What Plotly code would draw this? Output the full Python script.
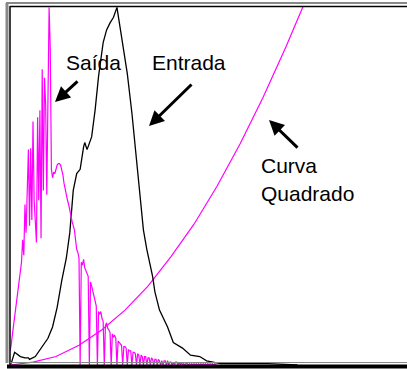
import plotly.graph_objects as go

# Histograma de entrada (nivel de cinza -> contagem relativa, 0..255)
entrada_x = [1, 4, 9, 13, 16, 17, 22, 28, 33, 37, 41, 45, 49, 52, 55, 58, 61, 64, 65, 67,
             71, 74, 77, 81, 84, 87, 90, 93, 97, 102, 106, 110, 113, 116, 119, 124, 126,
             130, 137, 142, 150, 157, 165, 171, 183, 194, 224, 250]
entrada_y = [1, 9, 6, 5, 5, 4, 6, 13, 19, 27, 41, 60, 76, 94, 124, 136, 139, 155, 158, 153,
             162, 181, 205, 229, 238, 243, 247, 254, 233, 207, 179, 146, 117, 96, 82, 63, 52,
             39, 27, 16, 12, 7, 6, 3, 1, 1, 1, 0]

# Histograma de saida, um valor por nivel (0, 1, 2, ...)
saida_pente = [10, 14, 21, 28, 33, 39, 46, 53, 60, 66, 73, 89, 78, 114, 94, 124, 153, 99, 154, 103,
               173, 117, 99, 87, 176, 117, 181, 90, 210, 124, 204, 185, 121, 188, 254, 225, 139, 133]
saida_bojo = [137, 136, 140, 142, 143, 143, 142, 139, 135, 129, 124, 121, 117, 114, 110, 104,
              102, 99, 96, 89, 82, 80, 76]
saida_cauda = [0, 73, 71, 75, 69, 67, 64, 63, 0, 59, 56, 53, 50, 46, 42, 0, 38, 36, 38, 33, 31, 0,
               28, 30, 26, 25, 23, 0, 22, 20, 21, 19, 0, 17, 16, 15, 14, 0, 13, 13, 12, 0, 11, 10,
               10, 0, 9, 9, 8, 0, 8, 7, 0, 7, 6, 0, 6, 6, 0, 5, 5, 0, 5, 4, 0, 4, 4, 0, 4, 3, 0, 3,
               0, 3, 3, 0, 3, 0, 2, 2, 0, 2, 0, 2, 2, 0, 2, 0, 2, 0, 1, 0, 1, 1, 0, 1, 0, 1, 0, 1,
               0, 1, 0, 1, 0, 1, 0, 1, 0, 1, 0, 1, 0, 1, 0, 1, 0, 1, 0, 0]

# Curva de transformacao (quadrado)
curva_x = [0, 20, 40, 60, 80, 100, 120, 140, 160, 180, 200, 220, 240, 255]
curva_y = [0, 2, 6, 14, 25, 39, 56, 77, 100, 127, 157, 190, 226, 255]

saida_y = saida_pente + saida_bojo + saida_cauda
saida_x = list(range(len(saida_y)))

MAG = "#FF00FF"
W, H = 407, 369
L, T, B = 10, 6, 4
PW, PH = W - L, H - T - B
XMAX = PW / 1.15


def px(x):
    # pixel -> nivel
    return (x - L) / 1.15


def py(y):
    # pixel -> valor
    return (H - B - y) * 255 / PH


fig = go.Figure()
fig.add_trace(go.Scatter(x=curva_x, y=curva_y, mode="lines",
                         line=dict(color=MAG, width=1.2)))
fig.add_trace(go.Scatter(x=entrada_x, y=entrada_y, mode="lines",
                         line=dict(color="black", width=1.3)))
fig.add_trace(go.Scatter(x=saida_x, y=saida_y, mode="lines",
                         line=dict(color=MAG, width=1.2)))

fig.update_layout(
    width=W, height=H,
    margin=dict(l=L, r=0, t=T, b=B, autoexpand=False),
    paper_bgcolor="white", plot_bgcolor="white",
    showlegend=False,
    font=dict(family="Liberation Sans", size=21, color="black"),
    xaxis=dict(range=[0, XMAX], visible=False),
    yaxis=dict(range=[0, 255], visible=False),
)

# textos
for txt, x, y, anc in [("Saída", 93, 62, "center"), ("Entrada", 189, 62, "center"),
                       ("Curva", 259, 165, "left"), ("Quadrado", 259, 193, "left")]:
    fig.add_annotation(text=txt, x=px(x), y=py(y), xanchor=anc, yanchor="middle",
                       showarrow=False)

# setas
for hx, hy, tx, ty in [(55, 102, 79, 80), (149, 126, 193, 83), (269, 120, 299, 149)]:
    fig.add_annotation(text="", x=px(hx), y=py(hy), ax=tx - hx, ay=ty - hy,
                       showarrow=True, arrowhead=2, arrowsize=1, arrowwidth=3,
                       arrowcolor="black")


# moldura
def fx(x):
    return (x - L) / PW


def fy(y):
    return (H - B - y) / PH


frame = [
    (7, 3, 7, 363, "#888888", 3),
    (6, 3, 407, 3, "#888888", 2),
    (10, 6, 10, 365, "black", 1.5),
    (10, 6.5, 407, 6.5, "black", 1.5),
    (10, 362.5, 407, 362.5, "#888888", 1),
    (7, 366.5, 407, 366.5, "black", 4),
]
for x0, y0, x1, y1, c, w in frame:
    fig.add_shape(type="line", xref="paper", yref="paper",
                  x0=fx(x0), y0=fy(y0), x1=fx(x1), y1=fy(y1),
                  line=dict(color=c, width=w))

# sem margem da pagina e sem barra de ferramentas
fig.write_html("out.html", config={"displayModeBar": False},
               post_script="document.body.style.margin='0';")
